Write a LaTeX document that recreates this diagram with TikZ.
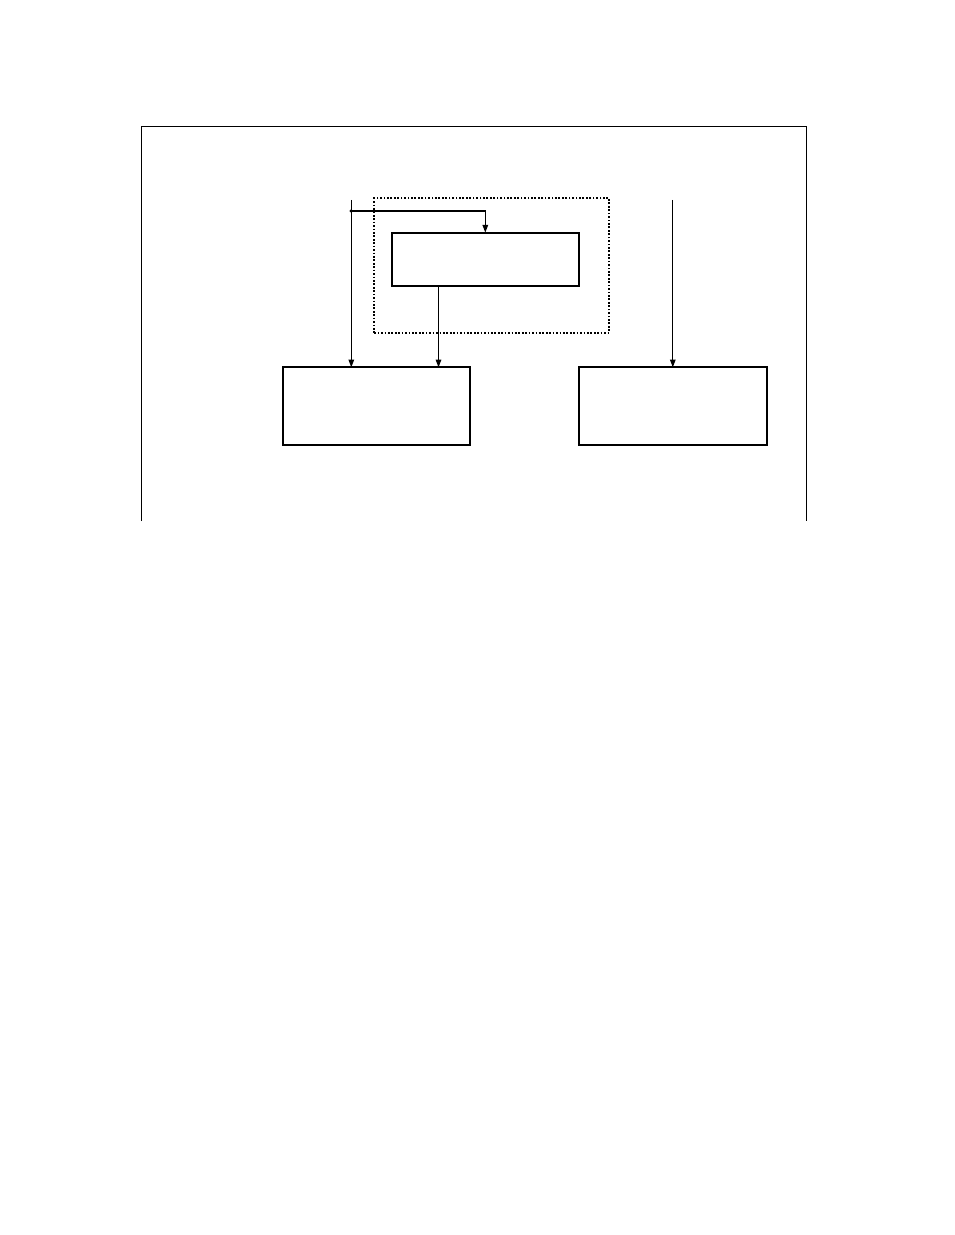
\documentclass[tikz,border=0pt]{standalone}
\usepackage{tikz}
\usetikzlibrary{positioning, arrows.meta}

\begin{document}
\begin{tikzpicture}[x=0.6414pt, y=-0.6414pt,
        unit/.style={draw=black, line width=1.3pt, inner sep=0pt, outer sep=0pt, minimum width=120.3pt},
        group/.style={draw=black, line width=1.1pt, dash pattern=on 1.1pt off 1.1pt, inner sep=0pt, minimum width=150.7pt, minimum height=86.2pt},
        >={Triangle[length=5pt, width=3.6pt]}]
            \useasboundingbox (0, 0) rectangle (954, 1235);

            \draw[line width=0.5pt] (141, 521) -- (141, 126) -- (806, 126) -- (806, 521);

            \node[group] (grp) at (491.8, 265.5) {};
            \node[unit, minimum width=120.1pt, minimum height=34.2pt] (ctrl) at (485.3, 259.3) {};
            \node[unit, minimum height=50pt] (lbox) at (376.5, 406.3) {};
            \node[unit, minimum height=50pt] (rbox) at (672.8, 406.3) {};

            \coordinate (lin) at (351.3, 200);
            \coordinate (split) at (351.3, 211);
            \coordinate (tap) at (438.5, 286);
            \coordinate (rin) at (672.8, 200);

            \draw [->, line width=0.7pt] (lin) -- (lin |- lbox.north);
            \draw [->, line width=0.7pt] (split) -| (ctrl.north);
            \fill (split) circle (1.2pt);
            \draw [->, line width=0.7pt] (tap |- ctrl.south) -- (tap |- lbox.north);
            \draw [->, line width=0.7pt] (rin) -- (rbox.north);
        \end{tikzpicture}
\end{document}
